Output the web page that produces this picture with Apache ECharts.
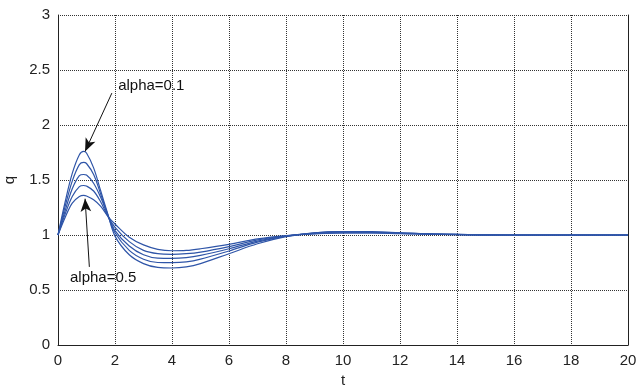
<!DOCTYPE html>
<html>
<head>
<meta charset="utf-8">
<script src="https://cdn.jsdelivr.net/npm/echarts@6/dist/echarts.min.js"></script>
<style>
  html, body { margin: 0; padding: 0; background: #fff; }
  #chart { width: 638px; height: 391px; }
</style>
</head>
<body>
<div id="chart"></div>
<script>
// Step responses q(t) for alpha = 0.1 ... 0.5
const tValues = [0, 0.25, 0.5, 0.75, 0.9, 1.0, 1.25, 1.5, 1.75, 2, 2.5, 3, 3.5, 4, 4.5, 5, 6, 7, 8, 9, 10, 11, 12, 13, 14, 16, 18, 20];
const qAlpha01 = [1, 1.30, 1.56, 1.73, 1.76, 1.745, 1.61, 1.40, 1.19, 0.99, 0.82, 0.74, 0.705, 0.70, 0.71, 0.74, 0.83, 0.92, 0.985, 1.02, 1.03, 1.03, 1.02, 1.01, 1.005, 1.0, 1.0, 1.0];
const qAlpha02 = [1, 1.26, 1.49, 1.64, 1.66, 1.65, 1.55, 1.37, 1.18, 1.02, 0.86, 0.78, 0.75, 0.748, 0.755, 0.78, 0.855, 0.935, 0.99, 1.02, 1.03, 1.025, 1.02, 1.01, 1.005, 1.0, 1.0, 1.0];
const qAlpha03 = [1, 1.22, 1.42, 1.54, 1.55, 1.545, 1.47, 1.34, 1.18, 1.04, 0.90, 0.82, 0.79, 0.788, 0.795, 0.815, 0.875, 0.945, 0.99, 1.015, 1.025, 1.025, 1.015, 1.01, 1.005, 1.0, 1.0, 1.0];
const qAlpha04 = [1, 1.19, 1.35, 1.44, 1.45, 1.445, 1.40, 1.30, 1.17, 1.07, 0.94, 0.86, 0.83, 0.824, 0.83, 0.845, 0.895, 0.955, 0.993, 1.013, 1.02, 1.02, 1.015, 1.008, 1.004, 1.0, 1.0, 1.0];
const qAlpha05 = [1, 1.16, 1.29, 1.35, 1.36, 1.355, 1.32, 1.26, 1.17, 1.10, 0.98, 0.91, 0.87, 0.857, 0.86, 0.875, 0.915, 0.965, 0.995, 1.01, 1.018, 1.018, 1.012, 1.007, 1.003, 1.0, 1.0, 1.0];
const curves = [qAlpha01, qAlpha02, qAlpha03, qAlpha04, qAlpha05];

// Annotation anchors, in data units [t, q]
const labelTop = { text: 'alpha=0.1', at: [2.11, 2.36], from: [1.89, 2.29], to: [0.95, 1.76] };
const labelBottom = { text: 'alpha=0.5', at: [0.42, 0.61], from: [1.10, 0.71], to: [0.95, 1.33] };

const lineColor = '#2f55a8';
const font = 'Liberation Sans, Arial, sans-serif';

const chart = echarts.init(document.getElementById('chart'), null, { renderer: 'canvas' });

const series = curves.map((q) => ({
  type: 'line',
  data: tValues.map((t, k) => [t, q[k]]),
  smooth: 0.35,
  symbol: 'none',
  lineStyle: { color: lineColor, width: 1.2 },
  z: 3
}));

// Arrows as markLines in data coordinates
series.push({
  type: 'line',
  data: [],
  symbol: 'none',
  markLine: {
    silent: true,
    symbol: ['none', 'arrow'],
    symbolSize: [8, 13],
    label: { show: false },
    lineStyle: { color: '#111', width: 1, type: 'solid' },
    data: [
      [{ coord: labelTop.from }, { coord: labelTop.to }],
      [{ coord: labelBottom.from }, { coord: labelBottom.to }]
    ]
  },
  z: 4
});

const gridLine = { show: true, lineStyle: { color: '#333', width: 1, type: [1, 1] } };

chart.setOption({
  animation: false,
  backgroundColor: '#fff',
  grid: { left: 58, right: 10, top: 15, bottom: 46, containLabel: false, outerBoundsMode: 'none' },
  xAxis: {
    type: 'value', min: 0, max: 20, interval: 2,
    name: 't', nameLocation: 'middle', nameGap: 26,
    nameTextStyle: { color: '#222', fontSize: 15, fontFamily: font },
    axisLine: { show: true, onZero: false, lineStyle: { color: '#222', width: 1 } },
    axisTick: { show: false },
    axisLabel: { color: '#222', fontSize: 15, fontFamily: font, margin: 8 },
    splitLine: gridLine
  },
  yAxis: [{
    type: 'value', min: 0, max: 3, interval: 0.5,
    name: 'q', nameLocation: 'middle', nameGap: 41, nameRotate: 90,
    nameTextStyle: { color: '#222', fontSize: 15, fontFamily: font },
    axisLine: { show: true, onZero: false, lineStyle: { color: '#222', width: 1 } },
    axisTick: { show: false },
    axisLabel: { color: '#222', fontSize: 15, fontFamily: font, margin: 8 },
    splitLine: gridLine
  }, {
    type: 'value', min: 0, max: 3, interval: 0.5, position: 'right',
    axisLine: { show: true, onZero: false, lineStyle: { color: '#222', width: 1 } },
    axisTick: { show: false },
    axisLabel: { show: false },
    splitLine: { show: false }
  }],
  series: series
});

// Text labels placed from data coordinates
const place = (lbl) => {
  const p = chart.convertToPixel({ gridIndex: 0 }, lbl.at);
  return {
    type: 'text', x: p[0], y: p[1], z: 10,
    style: { text: lbl.text, fill: '#111', font: '15px ' + font, verticalAlign: 'middle' }
  };
};
chart.setOption({ graphic: [place(labelTop), place(labelBottom)] });
</script>
</body>
</html>
